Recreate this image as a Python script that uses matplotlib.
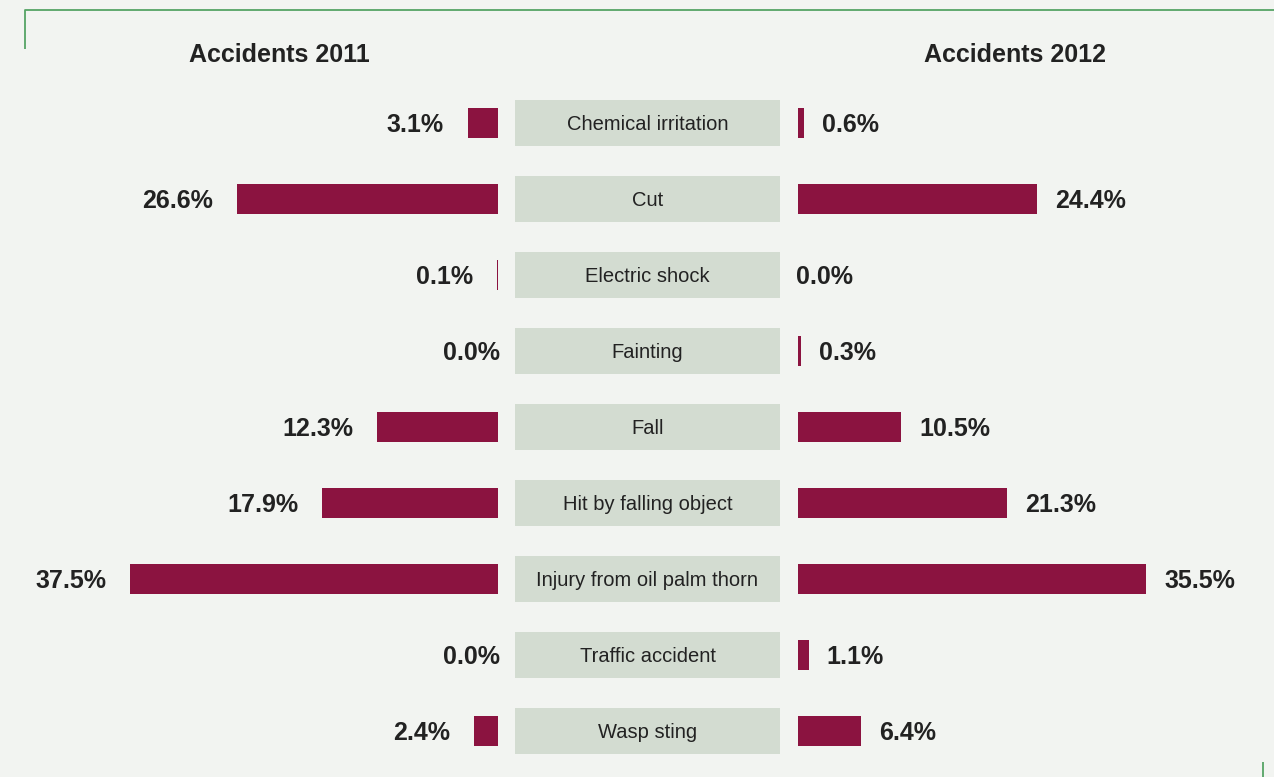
import matplotlib
matplotlib.use("Agg")
import matplotlib.pyplot as plt
from matplotlib.patches import Rectangle

categories = ["Chemical irritation", "Cut", "Electric shock", "Fainting", "Fall",
              "Hit by falling object", "Injury from oil palm thorn",
              "Traffic accident", "Wasp sting"]
pct_2011 = [3.1, 26.6, 0.1, 0.0, 12.3, 17.9, 37.5, 0.0, 2.4]
pct_2012 = [0.6, 24.4, 0.0, 0.3, 10.5, 21.3, 35.5, 1.1, 6.4]
titles = ["Accidents 2011", "Accidents 2012"]

W, H = 1274, 777
BG = "#f2f4f1"
BAR = "#8b1340"
BOX = "#d3dcd1"
TXT = "#222222"
GREEN = "#55a465"
FONT = "Liberation Sans"

PX_PER_PCT = 9.81
ROW0, ROW_STEP = 123, 76

fig = plt.figure(figsize=(W / 100, H / 100), dpi=100, facecolor=BG)

def axes_px(x0, x1):
    return fig.add_axes([x0 / W, 0, (x1 - x0) / W, 1])

ylim = ((H - ROW0) / ROW_STEP, -ROW0 / ROW_STEP)
rows = list(range(len(categories)))

# Left panel: 2011, bars grow leftwards from the centre column
axL = axes_px(0, 498)
axL.set_xlim(498 / PX_PER_PCT, 0)
axL.set_ylim(*ylim)
axL.barh(rows, pct_2011, height=30 / ROW_STEP, color=BAR, linewidth=0)
for r, v in zip(rows, pct_2011):
    gap = 24 if v > 0 else -2
    axL.annotate(f"{v:.1f}%", (v, r), xytext=(-gap, 0), textcoords="offset pixels",
                 ha="right", va="center_baseline", fontsize=18, fontweight="bold",
                 color=TXT, family=FONT)

# Right panel: 2012
axR = axes_px(798, W)
axR.set_xlim(0, (W - 798) / PX_PER_PCT)
axR.set_ylim(*ylim)
axR.barh(rows, pct_2012, height=30 / ROW_STEP, color=BAR, linewidth=0)
for r, v in zip(rows, pct_2012):
    gap = 18 if v > 0 else -2
    axR.annotate(f"{v:.1f}%", (v, r), xytext=(gap, 0), textcoords="offset pixels",
                 ha="left", va="center_baseline", fontsize=18, fontweight="bold",
                 color=TXT, family=FONT)

# Centre column of category labels
axC = axes_px(515, 780)
axC.set_xlim(0, 1)
axC.set_ylim(*ylim)
box_h = 46 / ROW_STEP
for r, name in zip(rows, categories):
    axC.add_patch(Rectangle((0, r - box_h / 2), 1, box_h, color=BOX, lw=0))
    axC.text(0.5, r, name, ha="center", va="center_baseline", fontsize=14.5,
             color=TXT, family=FONT)

for ax in (axL, axR, axC):
    ax.axis("off")
    ax.patch.set_visible(False)

# Overlay for headings and frame accents, in pixel coordinates
axO = fig.add_axes([0, 0, 1, 1], zorder=-1)
axO.set_xlim(0, W)
axO.set_ylim(H, 0)
axO.axis("off")
axO.plot([25, 25, W], [49, 10, 10], color=GREEN, lw=1.3, solid_capstyle="butt")
axO.plot([1263, 1263], [762, H], color=GREEN, lw=1.3, solid_capstyle="butt")
axO.text(279, 53, titles[0], ha="center", va="center_baseline", fontsize=18,
         fontweight="bold", color=TXT, family=FONT)
axO.text(1015, 53, titles[1], ha="center", va="center_baseline", fontsize=18,
         fontweight="bold", color=TXT, family=FONT)

fig.savefig("out.png", dpi=100, facecolor=BG)
